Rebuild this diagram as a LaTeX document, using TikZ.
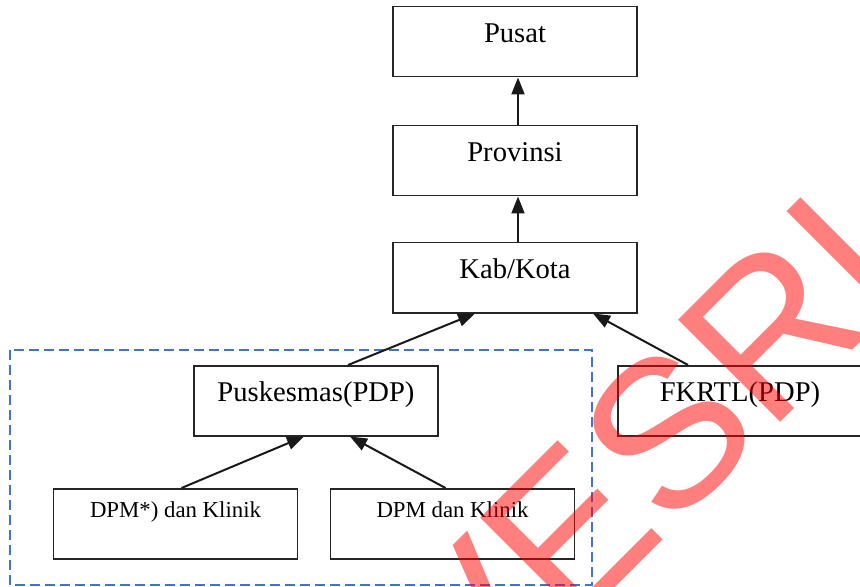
\documentclass[tikz,border=0pt]{standalone}
\usepackage{fontspec}
\setmainfont{Liberation Serif}
\newfontfamily\markfont{Liberation Sans}
\usetikzlibrary{arrows.meta}

\tikzset{
  levelbox/.style={draw=black!85, line width=0.75pt, minimum width=122pt,
    inner xsep=0pt, inner ysep=0pt, text height=18pt, text depth=17pt,
    anchor=north, font=\fontsize{14.3}{16}\selectfont},
  smallbox/.style={levelbox, text height=14.5pt, text depth=20.5pt,
    font=\fontsize{11.4}{13}\selectfont},
  upline/.style={draw=black!90, line width=1pt, -{Triangle[length=8.5pt,width=6.5pt]}},
  groupframe/.style={draw={rgb,255:red,68;green,114;blue,196}, line width=1pt,
    dash pattern=on 5pt off 2.5pt},
}

\begin{document}
\begin{tikzpicture}[x=0.5pt,y=-0.5pt]
      \clip (0,0) rectangle (860,587);
      % reporting levels
      \node[levelbox] (pusat) at (515,6) {Pusat};
      \node[levelbox] (prov) at (515,125) {Provinsi};
      \node[levelbox] (kab) at (515,242) {Kab/Kota};
      \node[levelbox] (pusk) at (316,365) {Puskesmas(PDP)};
      \node[levelbox] (fkrtl) at (740,365) {FKRTL(PDP)};
      \node[smallbox] (dpma) at (175.5,488) {DPM*) dan Klinik};
      \node[smallbox] (dpmb) at (452.5,488) {DPM dan Klinik};

      \path[groupframe] (10,350) rectangle (592,585);

      \path[upline] ([xshift=1.5pt]prov.north) -- ([xshift=1.5pt]pusat.south);
      \path[upline] ([xshift=1.5pt]kab.north) -- ([xshift=1.5pt]prov.south);
      \path[upline] ([xshift=16pt]pusk.north) -- ([xshift=-20pt]kab.south);
      \path[upline] ([xshift=-26pt]fkrtl.north) -- ([xshift=39pt]kab.south);
      \path[upline] ([xshift=3pt]dpma.north) -- ([xshift=-6pt]pusk.south);
      \path[upline] ([xshift=-3.5pt]dpmb.north) -- ([xshift=17pt]pusk.south);

      % watermark
      \node[text=red, opacity=0.5, rotate=45, inner sep=0pt,
        font=\markfont\fontsize{105}{105}\selectfont] (mark) at (643,458) {VESRI};
    \end{tikzpicture}
\end{document}
